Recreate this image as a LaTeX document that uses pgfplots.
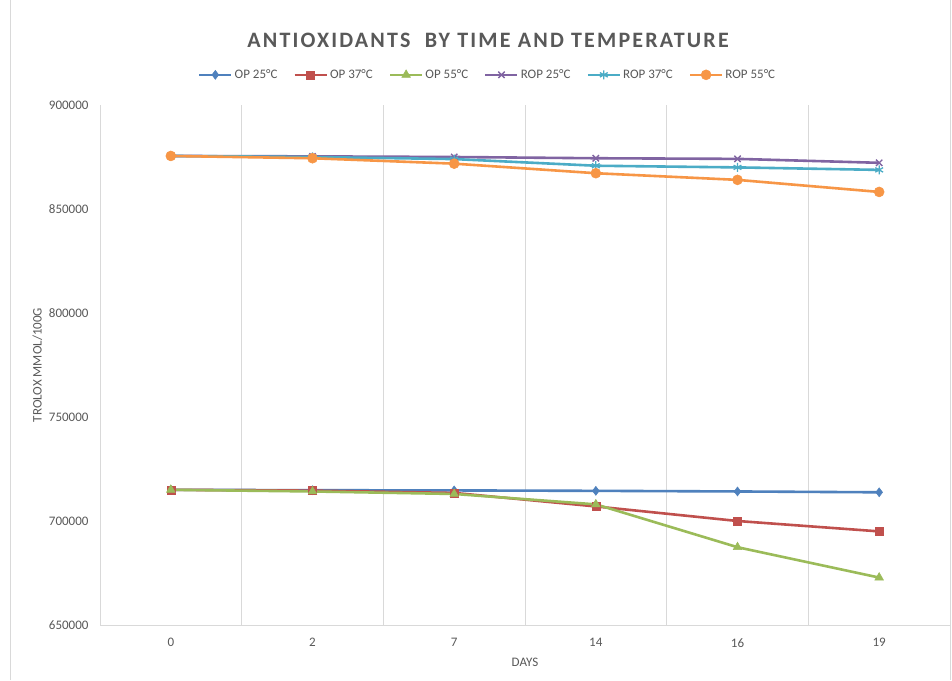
\documentclass[border=0pt]{standalone}
\usepackage{pgfplots}
\pgfplotsset{compat=1.18}
\usepackage{fontspec}
\setmainfont{Carlito}
\definecolor{cA}{HTML}{4F81BD}
\definecolor{cB}{HTML}{C0504D}
\definecolor{cC}{HTML}{9BBB59}
\definecolor{cD}{HTML}{8064A2}
\definecolor{cE}{HTML}{4BACC6}
\definecolor{cF}{HTML}{F79646}
\definecolor{tickgray}{HTML}{595959}
\definecolor{gridgray}{HTML}{D9D9D9}
\begin{document}
\begin{tikzpicture}[x=1pt,y=1pt]
\useasboundingbox (0,0) rectangle (952,680);
\fill[white] (0,0) rectangle (952,680);
\draw[gridgray,line width=1pt] (10,0) -- (10,680);
\draw[gridgray,line width=1pt] (950,0) -- (950,680);
\node[font=\fontsize{22}{26}\selectfont\bfseries, text=tickgray] at (488,640) {\addfontfeatures{LetterSpace=10}ANTIOXIDANTS\ \ BY TIME AND TEMPERATURE};
\begin{axis}[at={(100pt,55pt)}, anchor=south west, scale only axis,
  width=850pt, height=520pt,
  xmin=-0.5, xmax=5.5, ymin=650000, ymax=900000,
  ytick={650000,700000,750000,800000,850000,900000},
  xtick={0,1,2,3,4,5}, xticklabels={0,2,7,14,16,19},
  minor xtick={0.5,1.5,2.5,3.5,4.5},
  xminorgrids, minor grid style={gridgray, line width=1pt},
  axis x line*=bottom, axis y line*=left,
  axis line style={gridgray, line width=1pt, -},
  major tick length=0pt, minor tick length=0pt,
  scaled y ticks=false,
  yticklabel style={/pgf/number format/fixed, /pgf/number format/1000 sep={}},
  /pgf/number format/assume math mode=true,
  tick label style={font=\fontsize{13}{15}\selectfont, text=tickgray},
  xticklabel style={yshift=-10pt},
  yticklabel style={xshift=-8pt},
  xlabel={DAYS}, ylabel={TROLOX MMOL/100G},
  label style={font=\fontsize{13}{15}\selectfont, text=tickgray},
  xlabel style={yshift=-4pt},
  legend columns=6,
  legend image code/.code={\draw[mark repeat=2, mark phase=2] plot coordinates {(0pt,0pt) (16pt,0pt) (32pt,0pt)};},
  legend style={at={(0.456,1.058)}, anchor=center, draw=none, fill=none,
    font=\fontsize{13}{15}\selectfont, text=tickgray,
    /tikz/every even column/.append style={column sep=14pt}},
  every axis plot/.append style={line width=2.6pt},
]
\addplot[cA, mark=diamond*, mark size=4.5pt, mark options={solid, fill=cA, line width=0.5pt}] coordinates {(0,715000) (1,714800) (2,714700) (3,714500) (4,714200) (5,713800)};
\addlegendentry{OP 25°C}
\addplot[cB, mark=square*, mark size=4pt, mark options={solid, fill=cB, line width=0.5pt}] coordinates {(0,715000) (1,714600) (2,713500) (3,707000) (4,700000) (5,695000)};
\addlegendentry{OP 37°C}
\addplot[cC, mark=triangle*, mark size=5pt, mark options={solid, fill=cC, line width=0.5pt}] coordinates {(0,715000) (1,714200) (2,713000) (3,708000) (4,687400) (5,672800)};
\addlegendentry{OP 55°C}
\addplot[cD, mark=x, mark size=4.5pt, mark options={solid, line width=1.3pt}] coordinates {(0,875500) (1,875300) (2,875000) (3,874400) (4,874100) (5,872200)};
\addlegendentry{ROP 25°C}
\addplot[cE, mark=asterisk, mark size=4.5pt, mark options={solid, line width=1.3pt}] coordinates {(0,875500) (1,875000) (2,874000) (3,870800) (4,870000) (5,868800)};
\addlegendentry{ROP 37°C}
\addplot[cF, mark=*, mark size=5pt, mark options={solid, fill=cF, line width=0.5pt}] coordinates {(0,875500) (1,874400) (2,871800) (3,867200) (4,864000) (5,858200)};
\addlegendentry{ROP 55°C}
\end{axis}
\end{tikzpicture}
\end{document}
